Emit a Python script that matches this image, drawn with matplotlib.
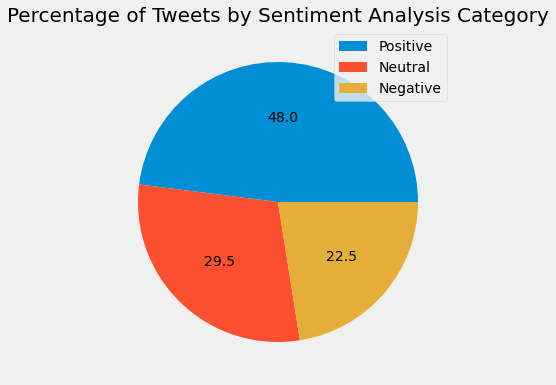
import matplotlib
matplotlib.use("Agg")
import matplotlib.pyplot as plt

# sentiment shares
categories = ["Positive", "Neutral", "Negative"]
shares = [48.0, 29.5, 22.5]

plt.style.use("fivethirtyeight")

W, H, DPI = 556, 385, 72
fig = plt.figure(figsize=(W / DPI, H / DPI), dpi=DPI)

# pie centre ~ (278, 202) px from top, radius ~140 px; pie pads limits to 1.25
cx, cy, half = 278, 202, 175
ax = fig.add_axes([(cx - half) / W, (H - cy - half) / H, 2 * half / W, 2 * half / H])

ax.pie(shares, labels=None, autopct="%.1f", textprops={"fontsize": 14})
ax.set_aspect("equal")

fig.text(0.5, 1 - 17 / H, "Percentage of Tweets by Sentiment Analysis Category",
         ha="center", va="center", fontsize=20)

ax.legend(categories, loc="upper right", bbox_to_anchor=(447 / W, 1 - 34 / H),
          bbox_transform=fig.transFigure, borderaxespad=0, fontsize=14)

fig.savefig("out.png", dpi=DPI, facecolor=fig.get_facecolor())
